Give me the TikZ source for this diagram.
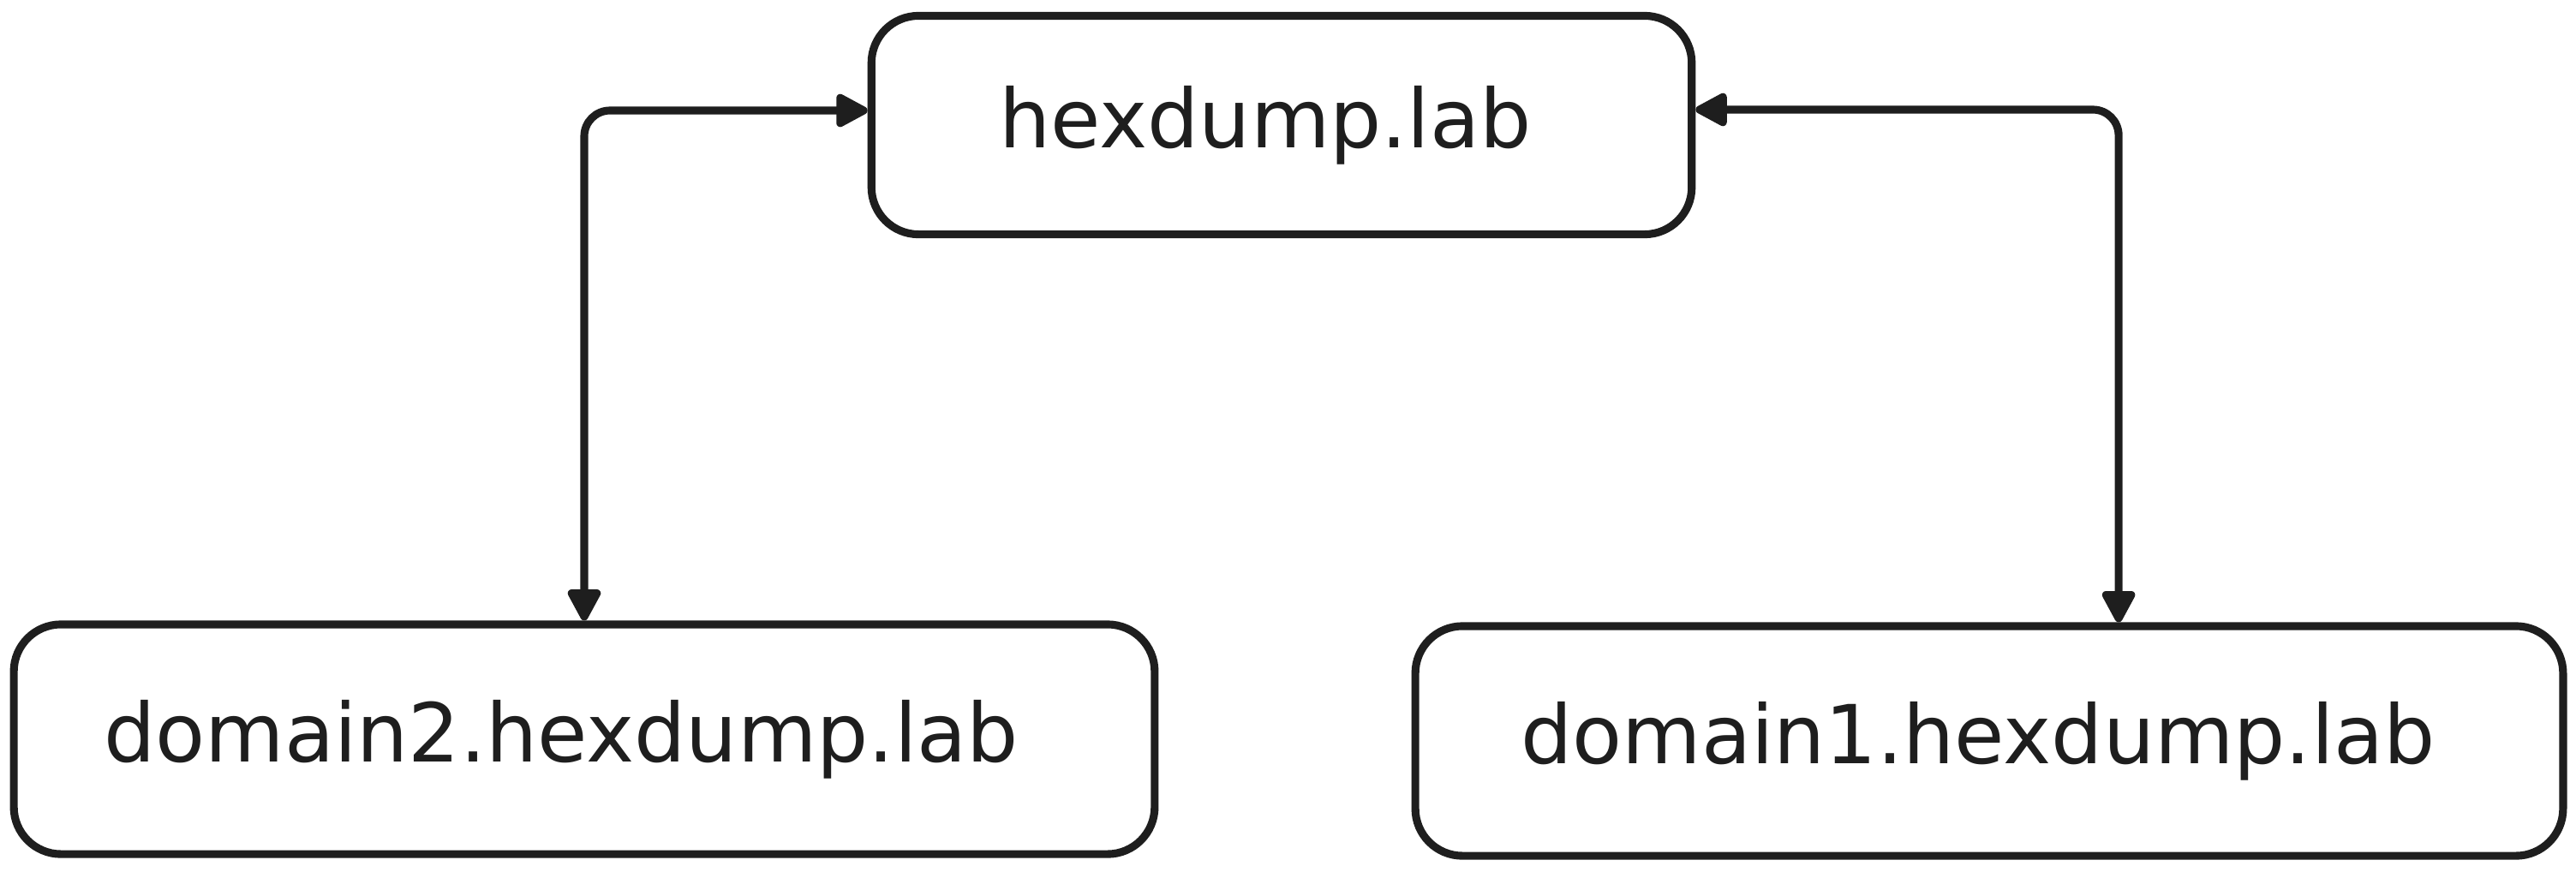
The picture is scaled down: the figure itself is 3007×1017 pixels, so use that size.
\documentclass[tikz,border=0pt]{standalone}
\usepackage{fontspec}
\setmainfont{DejaVu Sans}
\usetikzlibrary{arrows.meta}
\definecolor{ink}{HTML}{1E1E1E}
\tikzset{
  box/.style={draw=ink, line width=2.6pt, rounded corners=0.55cm, inner sep=0pt},
  label/.style={font=\fontsize{27}{32}\selectfont, text=ink, inner sep=0pt},
  link/.style={draw=ink, line width=2.6pt, rounded corners=0.3cm,
    {Triangle[length=0.42cm,width=0.42cm,round]}-{Triangle[length=0.42cm,width=0.42cm,round]}}
}
\begin{document}
\begin{tikzpicture}[x=0.01cm,y=-0.01cm]
\useasboundingbox (0,0) rectangle (3007,1017);
\node[box, minimum width=9.57cm, minimum height=2.55cm] (top) at (1496,146) {};
\node[box, minimum width=13.31cm, minimum height=2.68cm] (bl) at (682,863) {};
\node[box, minimum width=13.39cm, minimum height=2.68cm] (br) at (2322,865) {};
\node[label] (toptext) at (1477,146) {hexdump.lab};
\node[label] (bltext) at (655,863) {domain2.hexdump.lab};
\node[label] (brtext) at (2309,865) {domain1.hexdump.lab};
\coordinate (lt) at ([yshift=0.17cm]top.west);
\coordinate (rt) at ([yshift=0.18cm]top.east);
\coordinate (rb) at ([xshift=1.51cm]br.north);
\draw[link] (bl.north) |- (lt);
\draw[link] (rb) |- (rt);
\end{tikzpicture}
\end{document}
